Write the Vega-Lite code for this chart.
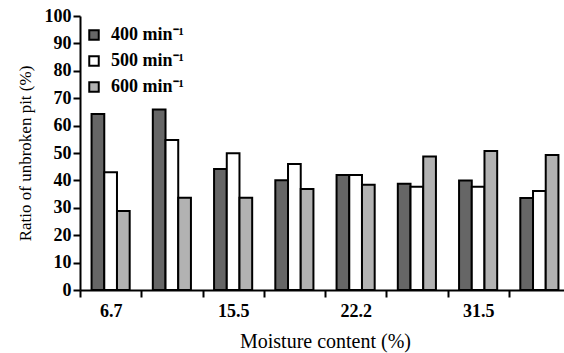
{
  "$schema": "https://vega.github.io/schema/vega-lite/v6.json",
  "autosize": {"type": "none"},
  "padding": {"left": 80, "top": 16, "right": 0, "bottom": 63},
  "width": 484,
  "height": 274,
  "background": "white",
  "config": {
    "view": {"stroke": null},
    "font": "Liberation Serif",
    "axis": {
      "domainColor": "black", "domainWidth": 2,
      "tickColor": "black", "tickWidth": 2, "tickSize": 7,
      "labelFont": "Liberation Serif", "labelFontSize": 18, "labelFontWeight": "bold", "labelColor": "black",
      "titleFont": "Liberation Serif", "titleFontWeight": "normal", "titleColor": "black",
      "grid": false
    }
  },
  "data": {
    "values": [
      {"g": 1, "speed": "400 min⁻¹", "ratio": 64.2},
      {"g": 1, "speed": "500 min⁻¹", "ratio": 43.0},
      {"g": 1, "speed": "600 min⁻¹", "ratio": 28.8},
      {"g": 2, "speed": "400 min⁻¹", "ratio": 65.9},
      {"g": 2, "speed": "500 min⁻¹", "ratio": 54.7},
      {"g": 2, "speed": "600 min⁻¹", "ratio": 33.7},
      {"g": 3, "speed": "400 min⁻¹", "ratio": 44.2},
      {"g": 3, "speed": "500 min⁻¹", "ratio": 49.9},
      {"g": 3, "speed": "600 min⁻¹", "ratio": 33.7},
      {"g": 4, "speed": "400 min⁻¹", "ratio": 40.1},
      {"g": 4, "speed": "500 min⁻¹", "ratio": 46.0},
      {"g": 4, "speed": "600 min⁻¹", "ratio": 36.9},
      {"g": 5, "speed": "400 min⁻¹", "ratio": 42.0},
      {"g": 5, "speed": "500 min⁻¹", "ratio": 42.0},
      {"g": 5, "speed": "600 min⁻¹", "ratio": 38.4},
      {"g": 6, "speed": "400 min⁻¹", "ratio": 38.8},
      {"g": 6, "speed": "500 min⁻¹", "ratio": 37.7},
      {"g": 6, "speed": "600 min⁻¹", "ratio": 48.7},
      {"g": 7, "speed": "400 min⁻¹", "ratio": 40.0},
      {"g": 7, "speed": "500 min⁻¹", "ratio": 37.7},
      {"g": 7, "speed": "600 min⁻¹", "ratio": 50.7},
      {"g": 8, "speed": "400 min⁻¹", "ratio": 33.6},
      {"g": 8, "speed": "500 min⁻¹", "ratio": 36.1},
      {"g": 8, "speed": "600 min⁻¹", "ratio": 49.3}
    ]
  },
  "mark": {"type": "bar", "stroke": "black", "strokeWidth": 2},
  "encoding": {
    "x": {
      "field": "g", "type": "ordinal",
      "scale": {"paddingInner": 0, "paddingOuter": 0, "range": [0, 490]},
      "axis": {
        "title": "Moisture content (%)",
        "titleFontSize": 20,
        "labelAngle": 0,
        "tickBand": "extent",
        "labelOverlap": false,
        "labelPadding": 5,
        "titlePadding": 11,
        "labelExpr": "datum.value == 1 ? '6.7' : datum.value == 3 ? '15.5' : datum.value == 5 ? '22.2' : datum.value == 7 ? '31.5' : ''"
      }
    },
    "xOffset": {
      "field": "speed", "type": "nominal",
      "scale": {"paddingInner": 0, "paddingOuter": 0.91}
    },
    "y": {
      "field": "ratio", "type": "quantitative",
      "scale": {"domain": [0, 100], "nice": false},
      "axis": {
        "title": "Ratio of unbroken pit (%)",
        "titleFontSize": 17,
        "values": [0, 10, 20, 30, 40, 50, 60, 70, 80, 90, 100],
        "labelPadding": 2,
        "titlePadding": 10
      }
    },
    "color": {
      "field": "speed", "type": "nominal",
      "scale": {"domain": ["400 min⁻¹", "500 min⁻¹", "600 min⁻¹"], "range": ["#666666", "#ffffff", "#b2b2b2"]},
      "legend": {
        "title": null,
        "orient": "none",
        "legendX": 5,
        "legendY": 10,
        "symbolType": "square",
        "symbolSize": 90,
        "symbolStrokeColor": "black",
        "symbolStrokeWidth": 2,
        "symbolOpacity": 1,
        "labelFont": "Liberation Serif",
        "labelFontSize": 18,
        "labelFontWeight": "bold",
        "labelColor": "black",
        "labelOffset": 8,
        "rowPadding": 8
      }
    }
  }
}
